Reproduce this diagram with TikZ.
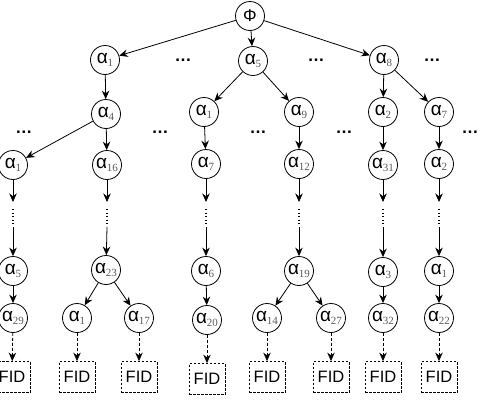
\documentclass[tikz,border=0pt]{standalone}
\usepackage{fontspec}
\setmainfont{Liberation Sans}
\newfontfamily\subserif{Liberation Serif}
\usetikzlibrary{arrows.meta}
\newcommand{\al}[1]{α\raisebox{-3pt}{\fontsize{11}{11}\subserif\color{black!65}#1}}
\tikzset{
 st/.style={circle,draw,line width=0.8pt,minimum size=29pt,inner sep=0pt,font=\fontsize{19}{19}\selectfont},
 fid/.style={draw,dash pattern=on 2.5pt off 1.5pt,line width=0.8pt,minimum width=36pt,minimum height=31pt,inner sep=0pt,font=\fontsize{16.5}{16.5}\selectfont},
 arr/.style={-{Stealth[length=8.5pt,width=7.5pt]},line width=0.8pt},
 darr/.style={arr,dash pattern=on 3pt off 2pt},
 vdots/.style={line width=1.1pt,dash pattern=on 1pt off 2.6pt},
 ell/.style={font=\fontsize{17}{17}\selectfont\bfseries,inner sep=0pt}
}
\begin{document}
\begin{tikzpicture}[x=1pt,y=-1pt]
\useasboundingbox (0,0) rectangle (480,402);
% nodes
\node[st,font=\fontsize{17}{17}\selectfont] (phi) at (250,16) {Φ};
\node[st] (a1) at (105,60) {\al{1}};
\node[st] (b5) at (253,61) {\al{5}};
\node[st] (c8) at (384,60) {\al{8}};
\node[ell] (e1) at (183,60) {…};
\node[ell] (e2) at (316,60) {…};
\node[ell] (e3) at (432,60) {…};
\node[st] (a4) at (106,114) {\al{4}};
\node[st] (b1) at (204,112) {\al{1}};
\node[st] (b9) at (299,112) {\al{9}};
\node[st] (c2) at (383,112) {\al{2}};
\node[st] (c7) at (439,112) {\al{7}};
\node[ell] (e4) at (24,132) {…};
\node[ell] (e5) at (160,132) {…};
\node[ell] (e6) at (258,132) {…};
\node[ell] (e7) at (344,132) {…};
\node[ell] (e8) at (470,132) {…};
\node[st] (r3a) at (13,165) {\al{1}};
\node[st] (r3b) at (107,165) {\al{16}};
\node[st] (r3c) at (206,164) {\al{7}};
\node[st] (r3d) at (299,164) {\al{12}};
\node[st] (r3e) at (383,165) {\al{31}};
\node[st] (r3f) at (439,164) {\al{2}};
\node[st] (r4a) at (13,271) {\al{5}};
\node[st] (r4b) at (106,270) {\al{23}};
\node[st] (r4c) at (206,271) {\al{6}};
\node[st] (r4d) at (299,271) {\al{19}};
\node[st] (r4e) at (383,272) {\al{3}};
\node[st] (r4f) at (439,271) {\al{1}};
\node[st] (r5a) at (13,318) {\al{29}};
\node[st] (r5b) at (77,318) {\al{1}};
\node[st] (r5c) at (139,318) {\al{17}};
\node[st] (r5d) at (207,320) {\al{20}};
\node[st] (r5e) at (267,318) {\al{14}};
\node[st] (r5f) at (331,318) {\al{27}};
\node[st] (r5g) at (383,318) {\al{32}};
\node[st] (r5h) at (439,318) {\al{22}};
\node[fid] (f1) at (12,377) {FID};
\node[fid] (f2) at (77,377) {FID};
\node[fid] (f3) at (139,377) {FID};
\node[fid] (f4) at (207,379) {FID};
\node[fid] (f5) at (267,377) {FID};
\node[fid] (f6) at (331,377) {FID};
\node[fid] (f7) at (383,377) {FID};
\node[fid] (f8) at (439,377) {FID};
% connectors top
\draw[arr] (phi) -- (a1);
\draw[arr] (phi) -- (b5);
\draw[arr] (phi) -- (c8);
\draw[arr] (a1) -- (a4);
\draw[arr] (b5) -- (b1);
\draw[arr] (b5) -- (b9);
\draw[arr] (c8) -- (c2);
\draw[arr] (c8) -- (c7);
\draw[arr] (a4) -- (r3a);
\draw[arr] (a4) -- (r3b);
\draw[arr] (b1) -- (r3c);
\draw[arr] (b9) -- (r3d);
\draw[arr] (c2) -- (r3e);
\draw[arr] (c7) -- (r3f);
% elided segments
\foreach \n/\x in {a/13,b/107,c/206,d/299,e/383,f/439}{
  \coordinate (p\n1) at (\x,202);
  \coordinate (p\n2) at (\x,209);
  \coordinate (p\n3) at (\x,224);
  \coordinate (p\n4) at (\x,227);
  \draw[arr] (r3\n) -- (p\n1);
  \draw[vdots] (p\n2) -- (p\n3);
  \draw[arr] (p\n4) -- (r4\n);
}
% lower
\draw[arr] (r4a) -- (r5a);
\draw[arr] (r4b) -- (r5b);
\draw[arr] (r4b) -- (r5c);
\draw[arr] (r4c) -- (r5d);
\draw[arr] (r4d) -- (r5e);
\draw[arr] (r4d) -- (r5f);
\draw[arr] (r4e) -- (r5g);
\draw[arr] (r4f) -- (r5h);
\draw[darr] (r5a) -- (f1);
\draw[darr] (r5b) -- (f2);
\draw[darr] (r5c) -- (f3);
\draw[darr] (r5d) -- (f4);
\draw[darr] (r5e) -- (f5);
\draw[darr] (r5f) -- (f6);
\draw[darr] (r5g) -- (f7);
\draw[darr] (r5h) -- (f8);
\end{tikzpicture}
\end{document}
